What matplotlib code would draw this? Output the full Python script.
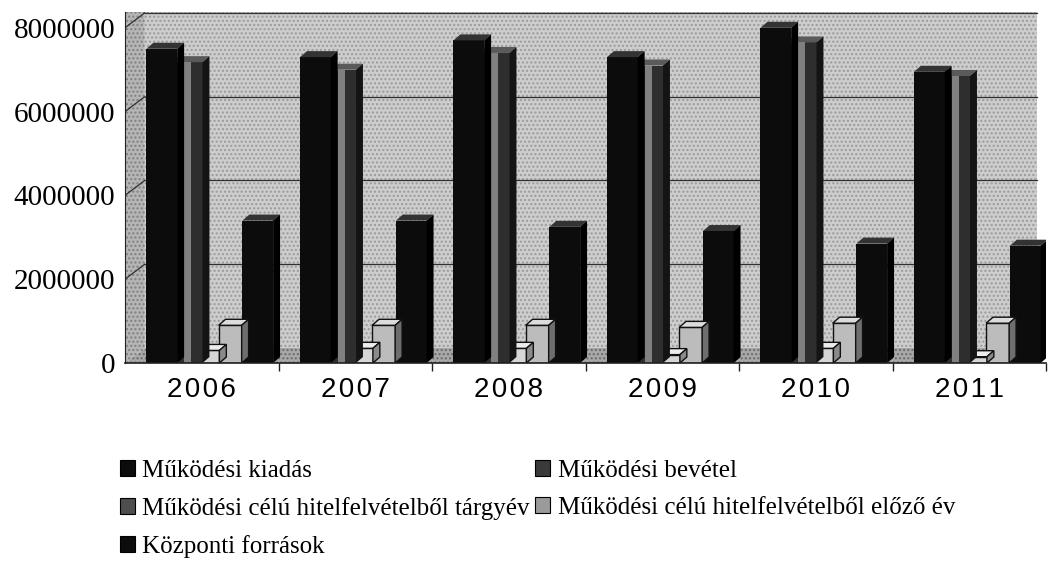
import numpy as np
import matplotlib.pyplot as plt
from matplotlib.patches import Polygon, Patch

years = ["2006", "2007", "2008", "2009", "2010", "2011"]
series = [
    "Működési kiadás",
    "Működési bevétel",
    "Működési célú hitelfelvételből tárgyév",
    "Működési célú hitelfelvételből előző év",
    "Központi források",
]
kiadas = [7500000, 7300000, 7700000, 7300000, 8000000, 6950000]
bevetel = [7180000, 7000000, 7400000, 7100000, 7650000, 6850000]
targyev = [300000, 350000, 350000, 200000, 350000, 150000]
elozo_ev = [900000, 900000, 900000, 850000, 950000, 950000]
kozponti = [3400000, 3400000, 3250000, 3150000, 2850000, 2800000]
values = [kiadas, bevetel, targyev, elozo_ev, kozponti]
yticks = [0, 2000000, 4000000, 6000000, 8000000]

# look
front = ["#0c0c0c", "#2e2e2e", "#d6d6d6", "#bcbcbc", "#0c0c0c"]
side = ["#000000", "#141414", "#8a8a8a", "#6e6e6e", "#000000"]
topc = ["#333333", "#5a5a5a", "#ededed", "#dcdcdc", "#333333"]
edges = ["none", "none", "#111111", "#111111", "none"]
legend_c = ["#0c0c0c", "#3a3a3a", "#4e4e4e", "#9a9a9a", "#0c0c0c"]
offsets = [-0.26, -0.095, 0.04, 0.185, 0.365]
widths = [0.20, 0.20, 0.15, 0.15, 0.20]
WALL = "#cdcdcd"

plt.rcParams["font.family"] = "Liberation Serif"

W, H = 1048, 561
fig = plt.figure(figsize=(W / 100, H / 100), dpi=100)
ax_l, ax_r, ax_t, ax_b = 125, 1046, 12, 363
ax = fig.add_axes([ax_l / W, 1 - ax_b / H, (ax_r - ax_l) / W, (ax_b - ax_t) / H])

x0, x1 = -0.5, -0.5 + (ax_r - ax_l) / 155
y0, y1 = 0, (ax_b - ax_t) / 41.9 * 1e6
ax.set_xlim(x0, x1)
ax.set_ylim(y0, y1)
px = (x1 - x0) / (ax_r - ax_l)
py = (y1 - y0) / (ax_b - ax_t)

# 3D box: back wall, left wall, floor
ddx, ddy = 20 * px, 15 * py
ax.add_patch(Polygon([(x0 + ddx, ddy), (x1, ddy), (x1, y1), (x0 + ddx, y1)],
                     facecolor=WALL, edgecolor="#9a9a9a", hatch="....", lw=0, zorder=0))
ax.add_patch(Polygon([(x0, 0), (x0 + ddx, ddy), (x0 + ddx, y1), (x0, y1)],
                     facecolor="#b5b5b5", edgecolor="#808080", hatch="....", lw=0, zorder=0.5))
ax.add_patch(Polygon([(x0, 0), (x1, 0), (x1, ddy), (x0 + ddx, ddy)],
                     facecolor="#a8a8a8", edgecolor="#6a6a6a", hatch="....", lw=0, zorder=0.6))
for v in yticks[1:]:
    ax.plot([x0 + ddx, x1], [v + ddy, v + ddy], color="#303030", lw=0.9, zorder=1)
    ax.plot([x0, x0 + ddx], [v, v + ddy], color="#303030", lw=0.9, zorder=1)

# bars with a shallow depth face
bdx, bdy = 7 * px, 6 * py
for s, vals in enumerate(values):
    xs = np.arange(len(years)) + offsets[s]
    z = 10 - s
    ax.bar(xs, vals, width=widths[s], color=front[s], edgecolor=edges[s], lw=1.0, zorder=z)
    if s == 1:
        # lighter stripe on the visible left part of the income bars
        ax.bar(xs + widths[s] * 0.02, vals, width=widths[s] * 0.22, color="#808080",
               edgecolor="none", zorder=z + 0.1)
    for xc, v in zip(xs, vals):
        l, r = xc - widths[s] / 2, xc + widths[s] / 2
        ax.add_patch(Polygon([(l, v), (r, v), (r + bdx, v + bdy), (l + bdx, v + bdy)],
                             facecolor=topc[s], edgecolor=edges[s], lw=1.0, zorder=z))
        ax.add_patch(Polygon([(r, 0), (r + bdx, bdy), (r + bdx, v + bdy), (r, v)],
                             facecolor=side[s], edgecolor=edges[s], lw=1.0, zorder=z))

# axes lines and ticks
for sp in ["top", "right", "bottom"]:
    ax.spines[sp].set_visible(False)
ax.spines["left"].set_color("#202020")
ax.axhline(0, color="#202020", lw=1.2, zorder=20, clip_on=False)
ax.set_yticks(yticks)
ax.set_yticklabels([str(v) for v in yticks], fontsize=21)
ax.tick_params(axis="y", length=0, pad=7)
ax.set_xticks(np.arange(len(years)) + 0.5, minor=True)
ax.set_xticks(np.arange(len(years)))
ax.set_xticklabels(["\u200a".join(y) for y in years], fontsize=20, family="Liberation Sans")
ax.tick_params(axis="x", which="major", length=0, pad=10)
ax.tick_params(axis="x", which="minor", length=6, width=1, color="#202020", direction="out")

# legend, column-wise order so rows read kiadás|bevétel, tárgyév|előző, központi
handles = [Patch(facecolor=legend_c[i], edgecolor="#000000", lw=0.8) for i in range(5)]
order = [0, 2, 4, 1, 3]
fig.legend([handles[i] for i in order], [series[i] for i in order], ncol=2,
           loc="upper left", bbox_to_anchor=(110 / W, 1 - 450 / H), frameon=False,
           fontsize=18, handlelength=0.6, handleheight=0.6, handletextpad=0.3,
           labelspacing=0.6, columnspacing=0.2, borderaxespad=0)

fig.savefig("out.png", dpi=100)
